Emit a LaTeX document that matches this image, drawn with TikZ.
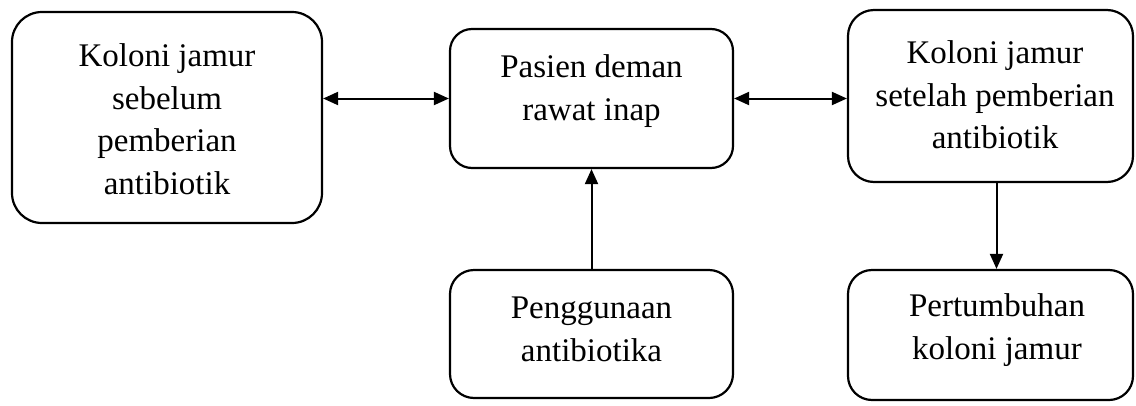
\documentclass[tikz,border=0pt]{standalone}
\usepackage{fontspec}
\setmainfont{Liberation Serif}
\usetikzlibrary{arrows.meta}
\begin{document}
\begin{tikzpicture}[x=1pt,y=-1pt,
  box/.style={draw, line width=2.2pt, inner sep=0pt},
  txt/.style={align=center, inner sep=0pt, font=\fontsize{33}{42.5}\selectfont},
  conn/.style={line width=2pt, -{Triangle[length=15pt,width=13pt]}},
  dconn/.style={line width=2pt, {Triangle[length=15pt,width=13pt]}-{Triangle[length=15pt,width=13pt]}}]
\useasboundingbox (0,0) rectangle (1136,405);
\node[box, rounded corners=30pt, minimum width=310pt, minimum height=211pt] (b1) at (167,117.5) {};
\node[txt] (t1) at (167,119) {Koloni jamur\\sebelum\\pemberian\\antibiotik};
\node[box, rounded corners=22pt, minimum width=283pt, minimum height=139pt] (b2) at (591.5,98.5) {};
\node[txt] (t2) at (591.5,91) {Pasien deman\\rawat inap};
\node[box, rounded corners=26pt, minimum width=285pt, minimum height=172pt] (b3) at (990.5,96) {};
\node[txt] (t3) at (995,95) {Koloni jamur\\setelah pemberian\\antibiotik};
\node[box, rounded corners=24pt, minimum width=283pt, minimum height=128pt] (b4) at (591.5,334) {};
\node[txt] (t4) at (591.5,329.5) {Penggunaan\\antibiotika};
\node[box, rounded corners=24pt, minimum width=285pt, minimum height=130pt] (b5) at (990.5,335) {};
\node[txt] (t5) at (997,330) {Pertumbuhan\\koloni jamur};
\draw[dconn] (b1.east |- b2.west) -- (b2.west);
\draw[dconn] (b2.east) -- (b3.west |- b2.east);
\draw[conn] (b4.north) -- (b2.south);
\draw[conn] ([xshift=6pt]b3.south) -- ([xshift=6pt]b5.north);
\end{tikzpicture}
\end{document}
